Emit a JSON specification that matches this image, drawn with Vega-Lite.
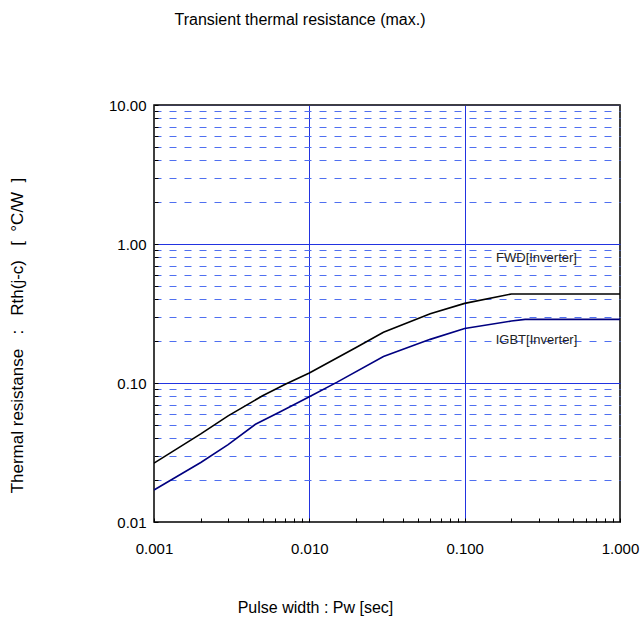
{
  "$schema": "https://vega.github.io/schema/vega-lite/v6.json",
  "width": 466,
  "height": 417,
  "autosize": {"type": "none"},
  "padding": {"left": 154, "top": 105, "right": 21, "bottom": 111},
  "background": "white",
  "config": {
    "font": "Liberation Sans",
    "view": {"stroke": "#000000", "strokeWidth": 1.5},
    "axis": {"labelFont": "Liberation Sans", "titleFont": "Liberation Sans", "labelColor": "#000", "titleColor": "#000"}
  },
  "title": {
    "text": "Transient thermal resistance (max.)",
    "font": "Liberation Sans",
    "fontSize": 16,
    "fontWeight": "normal",
    "color": "#000",
    "anchor": "middle",
    "dx": -87,
    "offset": 70
  },
  "datasets": {
    "curves": [
      {"pw": 0.001, "rth": 0.0265, "series": "FWD"},
      {"pw": 0.002, "rth": 0.043, "series": "FWD"},
      {"pw": 0.003, "rth": 0.058, "series": "FWD"},
      {"pw": 0.005, "rth": 0.081, "series": "FWD"},
      {"pw": 0.007, "rth": 0.098, "series": "FWD"},
      {"pw": 0.01, "rth": 0.118, "series": "FWD"},
      {"pw": 0.02, "rth": 0.18, "series": "FWD"},
      {"pw": 0.03, "rth": 0.232, "series": "FWD"},
      {"pw": 0.06, "rth": 0.315, "series": "FWD"},
      {"pw": 0.1, "rth": 0.374, "series": "FWD"},
      {"pw": 0.2, "rth": 0.437, "series": "FWD"},
      {"pw": 1.0, "rth": 0.437, "series": "FWD"},
      {"pw": 0.001, "rth": 0.017, "series": "IGBT"},
      {"pw": 0.002, "rth": 0.0268, "series": "IGBT"},
      {"pw": 0.003, "rth": 0.036, "series": "IGBT"},
      {"pw": 0.0045, "rth": 0.0505, "series": "IGBT"},
      {"pw": 0.0065, "rth": 0.0622, "series": "IGBT"},
      {"pw": 0.01, "rth": 0.0797, "series": "IGBT"},
      {"pw": 0.015, "rth": 0.101, "series": "IGBT"},
      {"pw": 0.03, "rth": 0.155, "series": "IGBT"},
      {"pw": 0.06, "rth": 0.206, "series": "IGBT"},
      {"pw": 0.1, "rth": 0.247, "series": "IGBT"},
      {"pw": 0.2, "rth": 0.279, "series": "IGBT"},
      {"pw": 0.245, "rth": 0.287, "series": "IGBT"},
      {"pw": 1.0, "rth": 0.287, "series": "IGBT"}
    ],
    "labels": [
      {"pw": 0.29, "rth": 0.79, "label": "FWD[Inverter]"},
      {"pw": 0.29, "rth": 0.204, "label": "IGBT[Inverter]"}
    ]
  },
  "layer": [
    {
      "data": {"name": "curves"},
      "mark": {"type": "line", "strokeWidth": 1.6, "clip": true},
      "encoding": {
        "x": {
          "field": "pw", "type": "quantitative",
          "scale": {"type": "log", "domain": [0.001, 1], "nice": false},
          "axis": {
            "title": "Pulse width : Pw [sec]",
            "titleFontSize": 16, "titleFontWeight": "normal",
            "titleX": 161, "titleY": 85, "titleAlign": "center", "titleBaseline": "middle", "titleAnchor": null,
            "values": [0.001,0.002,0.003,0.004,0.005,0.006,0.007,0.008,0.009,0.01,0.02,0.03,0.04,0.05,0.06,0.07,0.08,0.09,0.1,0.2,0.3,0.4,0.5,0.6,0.7,0.8,0.9,1],
            "labelExpr": "indexof([0.001,0.01,0.1,1], datum.value) >= 0 ? format(datum.value, '.3f') : ''",
            "labelFontSize": 15, "labelOverlap": false, "labelFlush": false, "labelBound": false,
            "labelPadding": 23,
            "domain": false,
            "tickSize": -4, "tickColor": "#000", "tickWidth": 1,
            "grid": true,
            "gridColor": "#2233e0",
            "gridWidth": 1,
            "gridOpacity": {"condition": {"test": "indexof([0.01,0.1], datum.value) >= 0", "value": 1}, "value": 0}
          }
        },
        "y": {
          "field": "rth", "type": "quantitative",
          "scale": {"type": "log", "domain": [0.01, 10], "nice": false},
          "axis": {
            "title": "Thermal\u00a0resistanse\u00a0\u00a0\u00a0:\u00a0\u00a0\u00a0Rth(j-c)\u00a0\u00a0\u00a0[\u00a0\u00a0°C/W\u00a0\u00a0]",
            "titleFontSize": 17, "titleFontWeight": "normal",
            "titleX": -137, "titleY": 230, "titleAlign": "center", "titleBaseline": "middle", "titleAngle": -90, "titleAnchor": null,
            "values": [0.01,0.02,0.03,0.04,0.05,0.06,0.07,0.08,0.09,0.1,0.2,0.3,0.4,0.5,0.6,0.7,0.8,0.9,1,2,3,4,5,6,7,8,9,10],
            "labelExpr": "indexof([0.01,0.1,1,10], datum.value) >= 0 ? format(datum.value, '.2f') : ''",
            "labelFontSize": 15, "labelOverlap": false, "labelFlush": false, "labelBound": false,
            "labelPadding": 12,
            "domain": false,
            "tickSize": -4, "tickColor": "#000", "tickWidth": 1,
            "grid": true,
            "gridWidth": 1,
            "gridOpacity": {"condition": {"test": "datum.value == 0.01", "value": 0}, "value": 1},
            "gridColor": {"condition": [
              {"test": "datum.value == 10", "value": "#3a3a55"},
              {"test": "indexof([0.1,1], datum.value) >= 0", "value": "#2233e0"}
            ], "value": "#4f6ff0"},
            "gridDash": {"condition": {"test": "indexof([0.01,0.1,1,10], datum.value) >= 0", "value": []}, "value": [7, 8]}
          }
        },
        "color": {
          "field": "series", "type": "nominal",
          "scale": {"domain": ["FWD", "IGBT"], "range": ["#000000", "#000080"]},
          "legend": null
        }
      }
    },
    {
      "data": {"name": "labels"},
      "mark": {"type": "text", "font": "Liberation Sans", "fontSize": 13, "color": "#222", "align": "center", "baseline": "middle"},
      "encoding": {
        "x": {"field": "pw", "type": "quantitative"},
        "y": {"field": "rth", "type": "quantitative"},
        "text": {"field": "label", "type": "nominal"}
      }
    }
  ]
}
